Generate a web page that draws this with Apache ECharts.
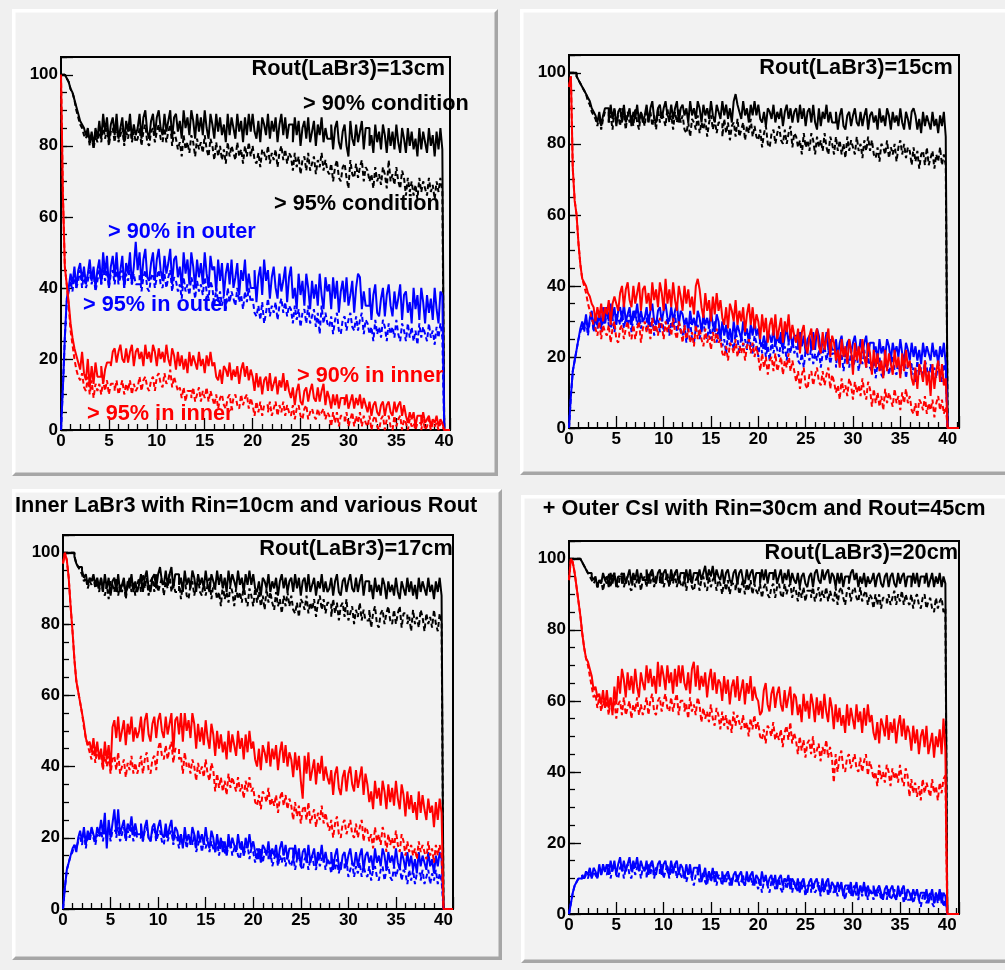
<!DOCTYPE html>
<html>
<head>
<meta charset="utf-8">
<script src="https://cdn.jsdelivr.net/npm/echarts@6/dist/echarts.min.js"></script>
<style>
html,body{margin:0;padding:0;background:#f0f0f0;}
#chart{width:1005px;height:970px;}
</style>
</head>
<body>
<div id="chart"></div>
<script>
// ---------------- DATA (histogram bin contents, 200 bins from 0 to 40) ----------------
const HIST_RANGE = [0, 40];
const Y_TICK_LABELS = [0, 20, 40, 60, 80, 100];
const X_TICK_LABELS = [0, 5, 10, 15, 20, 25, 30, 35, 40];
const panelLabels = ['Rout(LaBr3)=13cm', 'Rout(LaBr3)=15cm', 'Rout(LaBr3)=17cm', 'Rout(LaBr3)=20cm'];
const seriesNames = ['> 90% condition', '> 95% condition', '> 90% in outer', '> 95% in outer', '> 90% in inner', '> 95% in inner'];
const titleLeft = 'Inner LaBr3 with Rin=10cm and various Rout';
const titleRight = '+ Outer CsI with Rin=30cm and Rout=45cm';

// ---- Rout = 13 cm ----
const rout13_cond90 = [
100,100,100,99,98,96,95,93,91,89,87,86,85,83,85,81,84,80,85,82,
87,82,89,84,88,81,86,88,83,89,82,85,88,81,87,84,89,82,86,83,
85,89,82,88,90,84,82,87,89,83,88,90,85,83,89,84,87,90,82,88,
89,84,87,82,90,85,88,83,90,87,82,89,84,88,83,90,85,82,89,86,
82,89,84,88,83,86,81,89,83,88,85,82,89,84,87,81,88,83,89,84,
89,84,82,87,81,88,86,83,89,82,87,84,88,81,86,89,83,88,82,86,
86,81,88,83,87,80,85,87,82,88,81,84,87,80,86,83,88,81,85,82,
82,86,79,85,87,81,79,84,86,80,77,87,82,80,86,81,84,87,79,85,
85,80,83,78,86,81,84,79,86,83,78,85,80,84,79,86,81,78,85,82,
78,85,80,84,79,82,77,85,79,84,81,78,85,80,83,77,84,79,85,79];
const rout13_cond95 = [
100,100,100,99,98,96,95,93,90,88,86,85,83,82,84,80,83,79,83,81,
85,81,86,82,85,80,84,85,81,86,81,83,85,80,84,82,86,81,84,81,
82,85,80,84,86,81,80,84,85,81,84,86,82,81,85,81,84,86,80,84,
82,79,81,77,83,79,81,78,83,81,77,82,79,81,78,83,79,77,82,80,
76,81,77,80,76,79,75,81,77,80,78,76,81,77,79,75,80,77,81,77,
80,76,75,78,74,79,78,76,80,75,78,76,79,74,78,80,76,79,75,78,
77,73,78,74,77,72,76,77,73,78,73,75,77,72,76,74,78,73,76,73,
72,75,70,74,76,71,70,74,75,71,68,76,72,71,75,71,74,76,70,74,
73,70,72,68,74,70,72,69,74,72,68,76,70,72,69,74,70,68,73,71,
66,71,67,70,66,69,65,71,67,70,68,66,71,67,69,65,70,67,71,67];
const rout13_outer90 = [
0,12,26,37,40,44,41,46,40,45,47,42,46,41,44,48,42,46,40,45,
48,41,50,44,49,40,46,49,43,50,42,45,49,40,47,44,50,41,46,53,
45,50,41,48,51,43,42,47,50,42,48,51,45,42,49,44,47,51,41,48,
49,43,46,40,50,44,48,41,50,46,40,48,43,47,41,50,44,40,49,45,
46,39,48,42,47,38,44,47,41,48,40,43,47,38,45,42,48,39,44,40,
40,45,36,43,46,38,48,42,45,37,43,46,40,37,44,39,42,46,36,43,
46,37,40,34,44,38,42,35,44,40,34,42,37,41,35,44,38,34,43,39,
41,34,43,37,42,33,39,42,36,43,35,38,42,33,40,44,43,34,39,35,
35,40,31,38,41,33,32,37,40,32,38,41,35,32,39,34,37,41,31,38,
39,33,36,30,40,34,38,31,40,36,30,38,33,37,31,40,34,30,39,38];
const rout13_outer95 = [
0,12,26,36,39,42,39,44,40,42,45,40,44,40,42,45,41,44,39,42,
45,41,46,42,45,40,44,45,41,46,41,43,45,40,44,42,46,41,44,41,
41,44,39,43,45,40,39,43,44,40,43,45,41,40,44,40,43,45,39,43,
42,39,41,37,43,39,41,38,43,41,37,42,39,41,38,43,39,37,42,40,
35,40,36,39,35,38,34,40,36,39,37,35,40,36,38,34,39,36,40,36,
37,33,32,35,31,36,30,33,37,32,35,33,36,31,35,37,33,36,32,35,
34,30,35,31,34,29,33,34,30,35,30,32,34,29,33,27,35,30,33,30,
29,32,27,31,33,28,27,31,32,28,31,33,29,28,32,28,31,33,27,31,
30,27,29,25,31,27,29,26,31,29,25,30,27,29,26,31,27,25,30,28,
25,30,26,29,25,28,24,30,26,29,27,25,30,26,28,24,29,26,30,26];
const rout13_inner90 = [
100,66,46,41,36,30,26,23,21,19,17,22,16,14,20,12,18,13,19,15,
15,18,13,17,19,19,18,22,23,19,22,24,20,19,23,19,22,24,18,22,
23,20,22,18,24,20,22,19,24,22,18,23,20,22,19,24,20,18,23,21,
17,22,18,21,17,20,16,22,18,21,19,17,22,18,20,16,21,18,22,18,
19,15,14,17,13,18,17,15,19,14,17,15,18,13,17,19,15,18,14,17,
15,11,16,12,15,10,14,15,11,16,11,13,15,10,14,12,16,11,14,11,
9,12,7,11,13,8,7,11,12,8,11,13,9,8,12,8,11,13,7,11,
9,6,10,7,10,6,9,9,7,10,6,8,10,6,9,7,10,6,9,7,
5,8,4,7,8,5,4,7,8,4,7,8,5,4,8,5,7,8,4,7,
4,2,5,3,5,1,4,4,2,5,2,3,4,1,3,2,4,1,3,2];
const rout13_inner95 = [
100,66,46,41,35,28,24,20,17,15,14,16,12,11,15,10,14,9,13,11,
13,10,14,11,14,10,13,13,11,14,10,12,14,10,13,11,14,10,13,11,
12,15,11,14,15,12,11,14,15,11,15,16,13,12,16,13,14,17,12,15,
13,11,12,9,12,8,11,11,9,12,8,10,12,8,11,9,12,8,11,9,
7,10,6,9,10,7,6,9,10,6,9,10,7,6,10,7,9,10,6,9,
7,4,8,5,8,4,7,7,5,8,4,6,8,4,7,5,8,4,7,5,
4,7,3,6,7,4,3,6,7,3,5,6,4,3,6,4,5,6,3,5,
4,1,5,2,5,1,4,4,2,5,1,3,5,1,4,2,5,1,4,2,
1,4,0,3,4,1,0,3,4,0,3,4,1,0,4,1,3,4,0,3,
2,0,3,1,2,0,2,2,0,3,0,1,3,0,2,1,2,0,2,1];

// ---- Rout = 15 cm ----
const rout15_cond90 = [
100,100,100,100,99,98,97,96,95,94,93,92,90,89,88,86,89,85,88,90,
90,86,91,87,90,85,89,90,86,91,86,88,90,85,89,87,91,86,89,86,
88,91,86,90,92,87,86,90,91,87,90,92,88,87,91,87,90,92,86,90,
91,88,90,86,92,88,90,87,92,90,86,91,88,90,87,92,88,86,91,89,
87,92,88,91,87,90,86,92,94,91,89,87,92,88,90,86,91,88,92,88,
91,87,86,89,85,90,89,87,91,86,89,87,90,85,89,91,87,90,86,89,
90,86,91,87,90,85,89,90,86,91,86,84,90,85,89,87,91,86,89,86,
86,89,84,88,90,85,84,88,89,85,88,90,86,85,89,85,88,90,84,88,
89,86,88,84,90,86,88,85,90,88,84,89,86,88,85,90,86,84,89,87,
84,89,90,88,84,87,83,89,85,88,86,84,89,85,87,83,88,85,89,82];
const rout15_cond95 = [
100,100,100,100,99,98,97,96,95,94,92,91,89,88,87,85,88,84,87,89,
89,86,88,84,90,86,88,85,90,88,84,89,86,88,85,90,86,84,89,87,
85,90,86,89,85,88,84,90,86,89,87,85,90,86,88,84,89,86,90,86,
88,84,83,86,82,87,86,84,88,83,86,84,87,82,86,88,84,87,83,86,
86,82,87,83,86,81,85,86,82,87,82,84,86,81,85,83,87,82,85,82,
81,84,79,83,85,80,79,83,84,80,83,85,81,80,84,80,83,85,79,83,
82,79,81,77,83,79,81,78,83,81,77,82,79,81,78,83,79,77,82,80,
77,82,78,81,77,80,76,82,78,81,79,77,82,78,80,76,81,78,82,78,
81,77,76,79,75,80,79,77,81,76,79,77,80,75,79,81,77,80,76,79,
78,74,79,75,78,73,77,78,74,79,74,76,78,73,77,75,79,74,77,74];
const rout15_outer90 = [
0,9,16,19,22,25,28,30,28,32,27,31,33,28,32,29,33,28,34,30,
34,30,35,31,34,29,33,34,30,35,30,32,34,29,33,31,35,30,33,30,
31,34,29,33,35,30,29,33,34,30,33,35,31,30,34,30,33,35,29,33,
32,29,31,27,33,29,31,28,33,31,27,32,29,31,28,33,29,27,32,30,
25,30,26,29,25,28,24,30,26,29,27,25,30,26,28,24,29,26,30,26,
28,24,23,26,22,27,26,24,28,23,26,24,27,22,26,28,24,27,23,26,
26,22,27,23,26,21,25,26,22,27,22,28,26,21,25,23,27,22,25,22,
22,25,20,24,26,21,20,24,25,21,24,26,22,21,25,21,24,26,20,24,
24,21,23,19,25,21,23,20,25,23,19,24,21,23,20,25,21,19,24,22,
19,24,20,23,19,22,18,24,20,23,21,19,24,20,22,18,23,20,24,18];
const rout15_outer95 = [
0,9,16,19,22,25,27,29,27,31,26,30,32,27,31,28,32,27,31,29,
33,29,28,31,27,32,31,29,33,28,31,29,32,27,31,33,29,32,28,31,
31,27,32,28,31,26,30,31,27,32,27,29,31,26,30,28,32,27,30,27,
26,29,24,28,30,25,24,28,29,25,28,30,26,25,29,25,28,30,24,28,
26,23,25,21,27,23,25,22,27,25,21,26,23,25,22,27,23,21,26,24,
20,25,21,24,20,23,19,25,21,24,22,20,25,21,23,19,24,21,25,21,
23,19,18,21,17,22,21,19,23,18,21,19,22,17,21,23,19,22,18,21,
21,17,22,18,21,16,20,21,17,22,17,19,21,16,20,18,22,17,20,17,
16,19,14,18,20,15,14,18,19,15,18,20,16,15,19,15,18,20,14,18,
18,15,17,13,19,15,17,14,19,17,13,18,15,17,14,19,15,13,18,16];
const rout15_inner90 = [
96,99,73,64,60,52,46,42,41,40,38,37,35,34,30,34,31,35,30,34,
32,36,29,35,37,35,33,38,40,34,39,41,36,34,40,35,38,41,33,39,
40,35,38,33,41,36,39,34,41,38,33,42,35,39,34,41,36,33,40,37,
33,40,35,39,34,37,32,40,42,39,34,31,38,33,36,30,37,32,38,33,
36,31,29,34,28,35,33,30,36,29,33,30,34,27,32,35,29,34,28,32,
30,25,32,27,31,24,29,31,26,32,25,28,31,24,30,27,32,25,29,26,
24,28,21,27,29,23,21,26,28,22,26,28,23,21,27,22,25,28,20,26,
24,19,22,17,25,20,23,18,25,22,15,24,19,23,18,25,20,17,24,21,
15,22,17,21,16,19,14,22,16,21,18,15,22,17,20,14,21,16,22,17,
19,14,12,17,11,18,16,13,19,12,16,9,18,11,16,19,13,18,12,14];
const rout15_inner95 = [
96,99,73,64,60,52,46,42,40,38,35,33,31,29,28,26,30,25,29,27,
26,29,24,28,30,25,24,28,29,25,28,30,26,25,29,25,28,30,24,28,
30,27,29,25,31,27,29,26,31,29,25,30,27,29,26,31,27,25,30,28,
24,29,25,28,24,27,23,29,25,28,25,23,28,24,26,22,27,24,28,24,
25,21,20,23,19,24,23,21,25,20,23,21,24,19,23,25,21,24,20,23,
20,16,21,17,20,15,19,20,16,21,16,18,20,15,19,17,21,16,19,16,
13,16,11,15,17,12,11,15,16,12,15,17,13,12,16,12,15,17,11,15,
13,10,12,8,14,10,12,9,14,12,8,13,10,12,9,14,10,8,13,11,
6,11,7,10,6,9,5,11,7,10,8,6,11,7,9,5,10,7,11,7,
9,5,4,7,3,8,7,5,9,4,7,5,8,3,7,9,5,8,4,6];

// ---- Rout = 17 cm ----
const rout17_cond90 = [
100,100,100,100,100,100,99,97,96,96,95,93,94,91,93,92,94,91,93,90,
93,89,94,90,93,88,92,93,89,94,89,91,93,88,92,90,94,89,92,89,
91,94,89,93,95,90,89,93,94,90,94,96,92,91,95,91,94,96,90,94,
94,91,93,89,95,91,93,90,95,93,89,94,91,93,90,95,91,89,94,92,
90,95,91,94,90,93,89,95,91,94,92,90,95,91,93,89,94,91,95,91,
94,90,89,92,88,93,92,90,94,89,92,90,93,88,92,94,90,93,89,92,
93,89,94,90,93,88,92,93,89,94,89,91,93,88,92,90,94,89,92,89,
90,93,88,92,94,89,88,92,93,89,92,94,90,89,93,89,92,94,88,92,
92,89,91,87,93,89,91,88,93,91,87,92,89,91,88,93,89,87,92,90,
88,93,89,92,88,91,87,93,89,92,90,88,93,89,91,87,92,89,93,88];
const rout17_cond95 = [
100,100,100,100,100,100,99,97,96,95,94,92,93,90,92,91,93,90,92,89,
93,89,88,91,87,92,91,89,93,88,91,89,92,87,91,93,89,92,88,91,
93,89,94,90,93,88,92,93,89,94,89,91,93,88,92,90,94,89,92,89,
89,92,87,91,93,88,87,91,92,88,91,93,89,88,92,88,91,93,87,91,
90,87,89,85,91,87,89,86,91,89,85,90,87,89,86,91,87,85,90,88,
85,90,86,89,85,88,84,90,86,89,86,84,89,85,87,83,88,85,89,85,
88,84,83,86,82,87,86,84,88,83,86,84,87,82,86,88,84,87,83,86,
86,82,87,83,86,81,85,86,82,87,81,83,85,80,84,82,86,81,84,81,
81,84,79,83,85,80,79,83,84,80,83,85,81,80,84,80,83,85,79,83,
83,80,82,78,84,80,82,79,84,82,78,83,80,82,79,84,80,78,83,80];
const rout17_outer90 = [
0,6,11,13,15,17,18,16,20,22,19,23,18,22,20,23,21,19,23,21,
25,21,27,17,25,20,24,28,21,28,21,23,25,20,24,22,26,21,24,21,
21,24,19,23,25,20,19,23,24,20,23,25,21,20,24,20,23,25,19,23,
22,19,21,17,23,19,21,18,23,21,17,22,19,21,18,23,19,17,22,20,
16,21,17,20,16,19,15,21,17,20,18,16,21,17,19,15,20,17,21,17,
19,16,14,17,13,18,17,15,19,14,17,15,18,13,17,19,15,18,14,17,
17,13,18,14,17,12,16,17,13,18,13,15,17,12,16,14,18,13,16,13,
13,16,11,15,17,12,11,15,16,12,15,17,13,12,16,12,15,17,11,15,
16,13,15,11,17,13,15,12,17,15,11,16,13,15,12,17,13,11,16,14,
11,16,12,15,11,14,10,16,12,15,13,11,16,12,14,10,15,12,16,14];
const rout17_outer95 = [
0,6,11,13,15,16,18,17,19,20,18,22,17,21,19,22,20,18,21,20,
22,19,23,20,23,19,22,22,20,23,19,21,23,19,22,20,23,19,22,20,
20,23,19,22,23,20,19,22,23,19,21,22,19,18,22,19,21,22,18,21,
20,17,21,18,21,17,20,20,18,21,16,18,20,16,19,17,20,16,19,17,
16,19,15,18,19,16,15,18,19,15,17,18,15,14,18,15,17,18,14,17,
16,13,17,14,17,13,16,16,14,17,12,14,16,12,15,13,16,12,15,13,
12,15,11,14,15,12,11,14,15,11,14,15,12,11,15,12,14,15,11,14,
13,10,14,11,14,10,13,13,11,14,9,11,13,9,12,10,13,9,12,10,
9,12,8,11,12,9,8,11,12,8,11,12,9,8,12,9,11,12,8,11,
10,7,11,8,11,7,10,10,8,11,7,9,11,7,10,8,11,7,10,8];
const rout17_inner90 = [
97,100,98,93,85,78,70,64,61,58,55,52,48,46,47,44,48,43,47,42,
45,40,47,42,46,39,51,53,48,54,47,50,53,46,52,49,54,47,51,48,
50,54,47,53,55,49,47,52,54,48,53,55,50,48,54,49,52,55,44,53,
54,49,55,47,55,50,53,48,55,52,45,52,47,51,46,53,48,45,52,49,
43,50,45,49,44,47,42,50,44,49,46,43,50,45,48,42,49,44,50,45,
47,42,40,45,39,46,44,41,47,40,45,42,46,39,44,47,41,46,40,44,
42,37,44,39,43,36,31,43,38,44,36,39,42,35,41,38,43,36,40,37,
35,39,32,38,40,34,32,37,39,33,38,40,35,33,39,34,37,40,32,38,
35,30,33,28,36,31,34,29,36,33,28,35,30,34,29,36,31,28,35,32,
26,33,28,32,27,30,25,33,27,32,28,25,31,27,29,23,30,25,31,27];
const rout17_inner95 = [
97,100,98,93,85,78,70,64,61,58,55,51,48,46,44,42,46,41,45,42,
43,39,44,40,43,38,42,43,39,44,38,40,42,37,41,39,43,38,41,38,
40,43,38,42,44,39,38,42,43,39,45,47,43,42,46,42,45,47,41,45,
45,42,43,38,44,40,41,38,42,40,36,41,38,40,37,42,38,36,41,39,
33,38,34,37,33,36,32,38,34,37,35,33,37,33,35,31,36,33,37,33,
34,30,29,32,28,33,32,30,34,29,31,29,32,27,31,33,29,32,28,31,
29,25,30,26,29,24,28,29,25,30,24,26,28,23,27,25,29,24,27,24,
22,25,20,24,26,21,20,24,25,21,23,25,21,20,24,20,23,25,19,23,
22,19,21,17,23,19,21,18,23,21,16,21,18,20,17,22,18,16,21,19,
15,19,16,18,15,17,14,19,16,18,16,14,19,15,17,13,18,15,18,15];

// ---- Rout = 20 cm ----
const rout20_cond90 = [
100,100,100,100,100,100,100,99,98,97,96,96,95,94,95,92,94,93,96,94,
95,92,96,93,96,92,95,95,93,96,93,95,97,93,96,94,97,93,96,94,
94,97,93,96,97,94,93,96,97,93,96,97,94,93,97,94,96,97,93,96,
96,93,97,94,97,93,96,96,94,97,94,96,98,94,97,95,98,94,97,95,
94,97,93,96,97,94,93,96,97,93,96,97,94,93,97,94,96,97,93,96,
96,93,97,94,97,93,96,96,94,97,93,95,97,93,96,94,97,93,96,94,
93,96,92,95,96,93,92,95,96,92,96,97,94,93,97,94,96,97,93,96,
95,92,96,93,96,92,95,95,93,96,97,94,96,92,95,93,96,92,95,93,
94,96,92,95,96,93,92,95,96,92,95,96,93,92,96,93,95,96,92,95,
95,92,96,93,96,92,95,95,93,96,92,94,96,92,95,93,96,92,95,93];
const rout20_cond95 = [
100,100,100,100,100,100,100,99,98,97,96,95,94,93,94,92,93,94,91,94,
93,96,92,95,96,93,92,95,96,92,94,95,92,91,95,92,94,95,91,94,
95,92,96,93,96,92,95,95,93,96,92,94,96,92,95,93,96,92,95,93,
92,95,91,94,95,92,91,94,95,91,94,95,92,91,95,92,94,95,91,94,
93,90,94,91,94,90,93,93,91,94,90,92,94,90,93,91,94,90,93,91,
90,93,89,92,93,90,89,92,93,89,92,93,90,89,93,90,92,93,89,92,
91,88,92,89,92,88,91,91,89,92,88,90,92,88,91,89,92,88,91,89,
88,92,87,91,92,89,87,91,92,88,91,92,89,88,92,88,90,91,87,90,
89,86,90,87,90,86,89,89,87,90,87,89,91,87,90,88,91,87,90,88,
87,90,86,89,90,87,86,89,90,86,88,89,86,85,89,86,88,89,85,86];
const rout20_outer90 = [
0,3,6,8,9,10,10,11,10,12,11,13,10,13,12,10,14,11,14,12,
14,11,15,12,15,11,14,16,12,15,12,14,16,12,15,13,16,12,15,13,
12,15,11,14,15,12,11,14,15,11,14,15,12,11,15,12,14,15,11,14,
13,10,14,11,14,10,13,13,11,14,9,11,13,9,12,10,13,9,12,10,
10,12,9,11,12,10,8,11,12,9,11,12,9,8,12,9,11,12,8,11,
10,8,12,9,11,8,10,11,8,11,7,10,11,8,10,9,11,7,10,9,
7,10,6,9,10,7,6,9,10,7,9,10,7,6,10,7,9,10,6,9,
8,6,9,7,9,5,8,8,6,9,5,7,9,5,8,6,9,5,8,6,
6,8,5,7,8,6,4,7,8,5,7,8,5,4,8,5,7,8,4,7,
6,4,7,5,7,4,6,6,4,7,3,5,7,3,6,4,7,3,6,5];
const rout20_outer95 = [
0,3,6,8,9,10,10,11,10,11,10,12,10,12,11,10,13,11,13,12,
11,14,10,13,14,11,10,13,14,10,13,14,11,10,14,11,13,14,10,13,
13,10,14,11,14,10,13,13,11,14,10,12,14,10,13,11,14,10,13,11,
10,12,9,11,12,10,8,11,12,9,10,12,9,8,12,9,11,12,8,11,
10,8,11,9,11,8,10,10,9,11,8,9,11,8,10,9,11,8,10,9,
7,10,6,9,10,8,6,9,10,7,9,10,7,6,10,7,9,10,6,9,
8,6,9,7,9,5,8,8,6,9,6,7,9,5,8,6,9,5,8,7,
6,8,5,7,8,6,4,7,8,5,7,8,5,4,8,5,7,8,4,7,
6,4,7,5,7,4,6,6,4,7,4,5,7,4,6,5,7,3,6,4,
4,6,3,5,6,4,2,5,6,3,5,6,3,2,6,3,5,6,2,4];
const rout20_inner90 = [
94,100,99,96,92,88,84,79,75,72,71,69,67,63,64,61,62,59,63,58,
63,58,61,56,64,59,67,62,69,66,61,68,63,67,62,69,64,61,68,65,
63,70,65,69,64,67,62,71,64,70,67,63,70,65,68,62,69,64,70,65,
70,65,63,68,62,69,71,64,70,63,67,64,68,61,66,69,63,68,62,66,
65,60,67,62,66,59,64,66,61,67,60,63,66,59,65,62,67,60,64,61,
60,56,57,63,65,59,57,62,64,58,62,64,59,57,63,58,61,64,56,62,
61,56,59,54,62,57,60,55,62,59,54,61,56,60,55,62,57,54,61,58,
52,59,54,58,53,56,51,59,53,58,55,52,59,54,57,51,58,53,59,54,
56,51,49,54,48,55,53,50,56,49,54,51,55,48,53,56,50,55,49,53,
51,46,53,48,52,45,50,52,47,53,45,48,51,44,50,47,52,45,55,46];
const rout20_inner95 = [
94,100,99,96,92,88,84,79,75,72,70,67,64,61,62,58,61,57,60,58,
60,56,61,57,60,55,59,60,56,61,56,58,60,55,59,57,61,56,59,56,
58,61,56,60,62,57,56,60,61,57,60,62,58,57,61,57,60,62,56,60,
60,57,59,55,61,57,59,56,61,59,54,58,55,57,54,59,55,53,58,56,
52,57,53,56,52,55,51,57,53,56,54,52,56,52,54,50,55,52,56,52,
54,50,49,52,48,53,52,50,54,49,51,49,52,47,51,53,49,54,48,51,
49,45,50,46,49,44,48,49,45,50,44,46,48,43,47,45,49,44,47,44,
37,45,40,44,46,41,40,44,45,41,43,45,41,40,44,40,43,45,39,43,
41,38,40,36,42,38,40,37,42,40,36,41,38,40,37,42,38,36,41,39,
33,38,34,37,33,36,32,38,34,37,35,33,38,34,36,32,37,34,38,39];

const panelData = [
  [rout13_cond90, rout13_cond95, rout13_outer90, rout13_outer95, rout13_inner90, rout13_inner95],
  [rout15_cond90, rout15_cond95, rout15_outer90, rout15_outer95, rout15_inner90, rout15_inner95],
  [rout17_cond90, rout17_cond95, rout17_outer90, rout17_outer95, rout17_inner90, rout17_inner95],
  [rout20_cond90, rout20_cond95, rout20_outer90, rout20_outer95, rout20_inner90, rout20_inner95]
];

// ---------------- LAYOUT & STYLE ----------------
const FONT = '"Liberation Sans", Arial, Helvetica, sans-serif';
const layout = [
  {left: 61,  top: 57,  width: 389, height: 373, xMax: 40.6,  labelX: 445,   labelY: 69.5},
  {left: 569, top: 55,  width: 390, height: 373, xMax: 41.2,  labelX: 952.7, labelY: 68.3},
  {left: 63,  top: 535, width: 390, height: 374, xMax: 41.0,  labelX: 452.7, labelY: 549.3},
  {left: 569, top: 541, width: 390, height: 373, xMax: 41.24, labelX: 958,   labelY: 552.7}
];
const pads = [
  [12, 9, 498, 476],
  [520, 9, 1010, 475],
  [12, 489, 502, 960],
  [521, 495, 1010, 963]
];
const DASH = [5, 3];
const lineStyles = [
  {color: '#000000', type: 'solid'},
  {color: '#000000', type: DASH},
  {color: '#0000ff', type: 'solid'},
  {color: '#0000ff', type: DASH},
  {color: '#ff0000', type: 'solid'},
  {color: '#ff0000', type: DASH}
];

function histPoints(vals, xMax) {
  const w = (HIST_RANGE[1] - HIST_RANGE[0]) / vals.length;
  const pts = vals.map((v, i) => [HIST_RANGE[0] + i * w, v]);
  pts.push([HIST_RANGE[1], 0]);
  pts.push([xMax, 0]);
  return pts;
}

const graphics = [];
pads.forEach(([x0, y0, x1, y1]) => {
  const b = 3.5;
  graphics.push({type: 'rect', z: -10, silent: true, shape: {x: x0, y: y0, width: x1 - x0, height: y1 - y0}, style: {fill: '#f2f2f2'}});
  graphics.push({type: 'polygon', z: -9, silent: true, shape: {points: [[x0, y0], [x1, y0], [x1 - b, y0 + b], [x0 + b, y0 + b], [x0 + b, y1 - b], [x0, y1]]}, style: {fill: '#ffffff'}});
  graphics.push({type: 'polygon', z: -9, silent: true, shape: {points: [[x1, y0], [x1, y1], [x0, y1], [x0 + b, y1 - b], [x1 - b, y1 - b], [x1 - b, y0 + b]]}, style: {fill: '#a6a6a6'}});
});
function addText(text, x, y, align, color) {
  graphics.push({type: 'text', z: 100, silent: true, x: x, y: y,
    style: {text: text, fill: color, font: 'bold 21.7px ' + FONT, align: align, verticalAlign: 'middle'}});
}
layout.forEach((L, k) => addText(panelLabels[k], L.labelX, L.labelY, 'right', '#000000'));
addText(seriesNames[0], 303, 104, 'left', '#000000');
addText(seriesNames[1], 274, 204, 'left', '#000000');
addText(seriesNames[2], 108, 232, 'left', '#0000ff');
addText(seriesNames[3], 83, 305, 'left', '#0000ff');
addText(seriesNames[4], 297, 376, 'left', '#ff0000');
addText(seriesNames[5], 87, 414, 'left', '#ff0000');
addText(titleLeft, 15, 506, 'left', '#000000');
addText(titleRight, 542.7, 509, 'left', '#000000');

const option = {animation: false, grid: [], xAxis: [], yAxis: [], series: [], graphic: {elements: graphics}};
const labelStyle = {color: '#000000', fontFamily: FONT, fontWeight: 'bold', fontSize: 17};
const tickLine = {color: '#000000', width: 1.3};

layout.forEach((L, k) => {
  option.grid.push({left: L.left, top: L.top, width: L.width, height: L.height, show: true,
    borderColor: '#000000', borderWidth: 2, backgroundColor: 'transparent'});
  option.xAxis.push({gridIndex: k, type: 'value', position: 'bottom', min: 0, max: L.xMax, interval: 5,
    axisLine: {show: false}, splitLine: {show: false},
    axisTick: {show: true, inside: true, length: 12, lineStyle: tickLine},
    minorTick: {show: true, splitNumber: 5, length: 6, lineStyle: tickLine},
    axisLabel: Object.assign({margin: 3, formatter: v => (X_TICK_LABELS.indexOf(v) >= 0 ? String(v) : '')}, labelStyle)});
  option.yAxis.push({gridIndex: k, type: 'value', position: 'left', min: 0, max: 105, interval: 20,
    axisLine: {show: false}, splitLine: {show: false},
    axisTick: {show: true, inside: true, length: 12, lineStyle: tickLine},
    axisLabel: Object.assign({margin: 3, formatter: v => (Y_TICK_LABELS.indexOf(v) >= 0 ? String(v) : '')}, labelStyle)});
  option.yAxis.push({gridIndex: k, type: 'value', position: 'left', min: 0, max: 105, interval: 5,
    axisLine: {show: false}, splitLine: {show: false}, axisLabel: {show: false},
    axisTick: {show: true, inside: true, length: 6, lineStyle: tickLine}});
  panelData[k].forEach((vals, j) => {
    option.series.push({type: 'line', name: seriesNames[j], xAxisIndex: k, yAxisIndex: 2 * k,
      data: histPoints(vals, L.xMax), step: 'end', symbol: 'none', showSymbol: false, silent: true,
      z: 3 + j, lineStyle: {color: lineStyles[j].color, type: lineStyles[j].type, width: 2}});
  });
});

const chart = echarts.init(document.getElementById('chart'), null, {renderer: 'canvas'});
chart.setOption(option);
</script>
</body>
</html>
